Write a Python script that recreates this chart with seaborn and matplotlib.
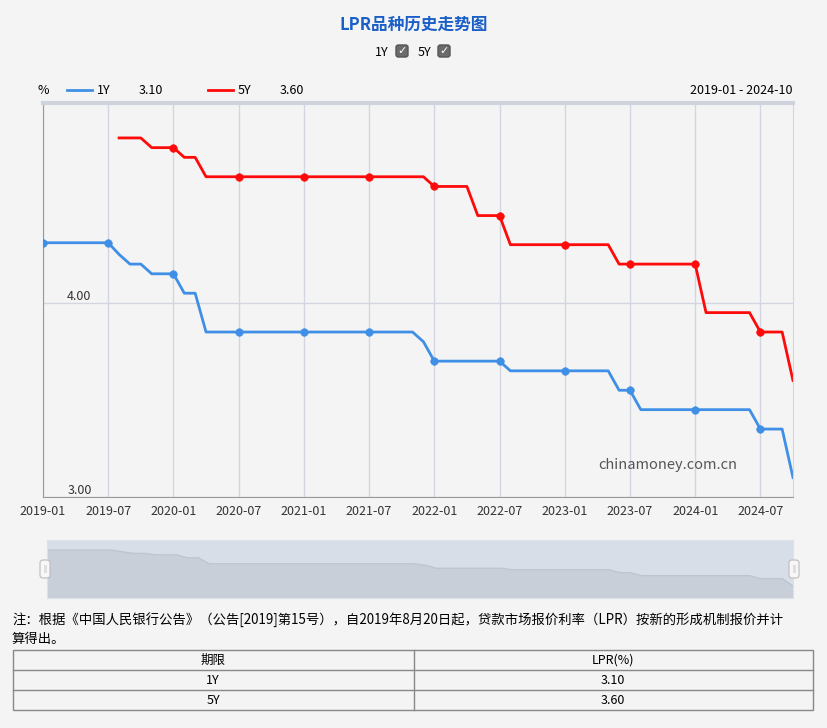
import numpy as np
import pandas as pd
import matplotlib
matplotlib.use("Agg")
import matplotlib.pyplot as plt
import seaborn as sns
from matplotlib.patches import FancyBboxPatch, Rectangle
from matplotlib.lines import Line2D

plt.rcParams["font.family"] = ["Noto Sans CJK SC", "DejaVu Sans"]

months = pd.period_range("2019-01", "2024-10", freq="M").strftime("%Y-%m").tolist()
lpr_1y = ([4.31] * 7 + [4.25, 4.20, 4.20, 4.15, 4.15]
          + [4.15, 4.05, 4.05] + [3.85] * 9
          + [3.85] * 11 + [3.80]
          + [3.70] * 7 + [3.65] * 5
          + [3.65] * 5 + [3.55] * 2 + [3.45] * 5
          + [3.45] * 6 + [3.35] * 3 + [3.10])
lpr_5y = ([np.nan] * 7 + [4.85] * 3 + [4.80] * 2
          + [4.80] + [4.75] * 2 + [4.65] * 9
          + [4.65] * 12
          + [4.60] * 4 + [4.45] * 3 + [4.30] * 5
          + [4.30] * 5 + [4.20] * 7
          + [4.20] + [3.95] * 5 + [3.85] * 3 + [3.60])
tick_labels = months[::6]
latest = {"1Y": "3.10", "5Y": "3.60"}

df = pd.DataFrame({"idx": range(len(months)), "1Y": lpr_1y, "5Y": lpr_5y})
colors = {"1Y": "#3f8fe6", "5Y": "#ff0a0a"}
bg = "#f4f4f4"

fig = plt.figure(figsize=(8.27, 7.28), dpi=100, facecolor=bg)
W, H = 827, 728

def fx(px): return px / W
def fy(py): return 1 - py / H

ax = fig.add_axes([fx(43), fy(497), fx(750), 394 / H])
ax.set_facecolor(bg)
for name in ["1Y", "5Y"]:
    sns.lineplot(data=df, x="idx", y=name, ax=ax, color=colors[name], lw=2)
    m = df[df["idx"] % 6 == 0].dropna(subset=[name])
    sns.scatterplot(data=m, x="idx", y=name, ax=ax, color=colors[name], s=30,
                    edgecolor=colors[name], zorder=5)
ax.set_xlim(0, len(months) - 1)
ax.set_ylim(3, 5.03)
ax.set_xticks(range(0, len(months), 6))
ax.set_xticklabels(tick_labels, fontsize=9, color="#333")
ax.set_yticks([3, 4])
ax.set_yticklabels(["3.00", "4.00"], fontsize=9, color="#333")
ax.tick_params(axis="y", pad=-35, length=0)
for lab in ax.get_yticklabels():
    lab.set_verticalalignment("bottom")
ax.tick_params(axis="x", length=0, pad=6)
ax.grid(True, color="#d3d6e2", lw=1)
ax.set_xlabel(""); ax.set_ylabel("")
for s in ["left", "bottom"]:
    ax.spines[s].set_color("#999")
ax.spines["top"].set_color("#cfd3dc"); ax.spines["top"].set_linewidth(3)
ax.spines["right"].set_color("#d3d6e2")
ax.text(0.925, 0.07, "chinamoney.com.cn", transform=ax.transAxes, ha="right",
        fontsize=10.5, color="#555")

# slider
sl = fig.add_axes([fx(47), fy(598), fx(746), 58 / H])
sl.set_facecolor("#d7dee7")
sl.fill_between(df["idx"], lpr_1y, 2.7, color="#c8cfd9", lw=0)
sns.lineplot(data=df, x="idx", y="1Y", ax=sl, color="#bcc5d0", lw=1)
sl.set_xlim(0, len(months) - 1); sl.set_ylim(2.7, 4.65)
sl.set_xticks([]); sl.set_yticks([]); sl.set_xlabel(""); sl.set_ylabel("")
for s in sl.spines.values():
    s.set_color("#dde2ea")
for hx in [45, 794]:
    fig.patches.append(FancyBboxPatch((fx(hx - 5), fy(578)), fx(10), 18 / H,
                                      boxstyle="round,pad=0,rounding_size=0.004",
                                      transform=fig.transFigure, fc="#f7f7f7", ec="#bbb", lw=0.8))
    fig.text(fx(hx), fy(569), "||", ha="center", va="center", fontsize=5, color="#999")

# title and checkboxes
fig.text(0.5, fy(25), "LPR品种历史走势图", ha="center", va="center", fontsize=12,
         color="#1a5fc8", fontweight="bold")
for lab, x0 in [("1Y", 382), ("5Y", 424)]:
    fig.text(fx(x0), fy(52), lab, ha="center", va="center", fontsize=9)
    fig.patches.append(FancyBboxPatch((fx(x0 + 14), fy(57)), fx(12), 12 / H,
                                      boxstyle="round,pad=0,rounding_size=0.003",
                                      transform=fig.transFigure, fc="#6b6b6b", ec="#555"))
    fig.text(fx(x0 + 20), fy(51), "✓", ha="center", va="center", fontsize=8,
             color="white", fontweight="bold", family="DejaVu Sans")

# legend row
fig.text(fx(37), fy(90), "%", va="center", fontsize=9)
for name, x0 in [("1Y", 67), ("5Y", 208)]:
    fig.lines.append(Line2D([fx(x0), fx(x0 + 25)], [fy(90)] * 2, color=colors[name],
                            lw=2, transform=fig.transFigure))
    fig.text(fx(x0 + 30), fy(90), name, va="center", fontsize=9)
    fig.text(fx(x0 + 72), fy(90), latest[name], va="center", fontsize=9)
fig.text(fx(793), fy(90), f"{months[0]} - {months[-1]}", ha="right", va="center", fontsize=9)

# note
fig.text(fx(12), fy(620), "注：根据《中国人民银行公告》（公告[2019]第15号），自2019年8月20日起，贷款市场报价利率（LPR）按新的形成机制报价并计",
         va="center", fontsize=9.6)
fig.text(fx(12), fy(639), "算得出。", va="center", fontsize=9.6)

# table
rows = [("期限", "LPR(%)"), ("1Y", latest["1Y"]), ("5Y", latest["5Y"])]
tb_top, rh = 650, 20
fig.patches.append(Rectangle((fx(13), fy(tb_top + rh * 3)), fx(800), rh * 3 / H,
                             transform=fig.transFigure, fc="none", ec="#888", lw=1))
for i in range(1, 3):
    fig.lines.append(Line2D([fx(13), fx(813)], [fy(tb_top + rh * i)] * 2, color="#888",
                            lw=1, transform=fig.transFigure))
fig.lines.append(Line2D([fx(414)] * 2, [fy(tb_top), fy(tb_top + rh * 3)], color="#888",
                        lw=1, transform=fig.transFigure))
for i, (a, b) in enumerate(rows):
    yc = fy(tb_top + rh * i + rh / 2)
    fig.text(fx(213), yc, a, ha="center", va="center", fontsize=9)
    fig.text(fx(613), yc, b, ha="center", va="center", fontsize=9)

fig.savefig("out.png", dpi=100, facecolor=bg)
